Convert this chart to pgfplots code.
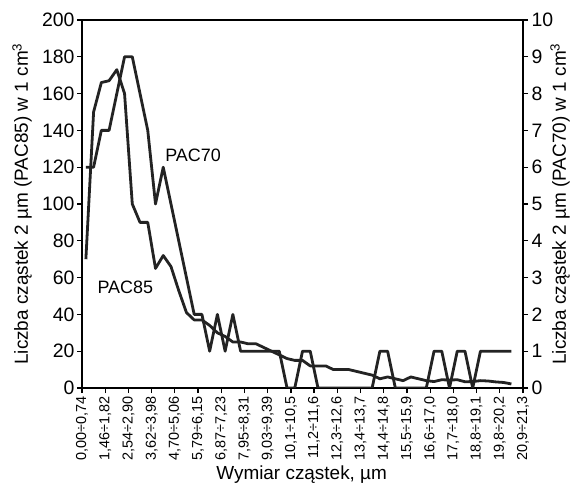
\documentclass[border=0pt]{standalone}
\usepackage{pgfplots}
\pgfplotsset{compat=1.18}
\usepackage{fontspec}
\setmainfont{Liberation Sans}
\definecolor{ln}{HTML}{232323}
\begin{document}
\begin{tikzpicture}
\useasboundingbox (0,0) rectangle (571bp,486bp);
\begin{axis}[
  at={(82bp,98bp)}, anchor=south west,
  scale only axis, width=441bp, height=368bp,
  xmin=0, xmax=57, ymin=0, ymax=200,
  xtick={0,3,...,57},
  xticklabels={{0,00÷0,74},{1,46÷1,82},{2,54÷2,90},{3,62÷3,98},{4,70÷5,06},{5,79÷6,15},{6,87÷7,23},{7,95÷8,31},{9,03÷9,39},{10,1÷10,5},{11,2÷11,6},{12,3÷12,6},{13,4÷13,7},{14,4÷14,8},{15,5÷15,9},{16,6÷17,0},{17,7÷18,0},{18,8÷19,1},{19,8÷20,2},{20,9÷21,3}},
  ytick={0,20,...,200},
  xtick pos=bottom, ytick pos=left, tick align=outside,
  major tick length=5bp,
  axis line style={line width=1.3bp, black},
  every tick/.style={black, line width=1.3bp},
  /pgf/number format/assume math mode=true,
  yticklabel style={font=\fontsize{19.5}{22}\selectfont, xshift=1bp},
  xticklabel style={font=\fontsize{14.5}{17}\selectfont, rotate=90, anchor=east, xshift=0bp},
  ylabel={Liczba cząstek 2 µm (PAC85) w 1 cm\textsuperscript{3}},
  ylabel style={font=\fontsize{19}{22}\selectfont, at={(axis description cs:-0.136,0.5)}, anchor=center, rotate=0},
  xlabel={Wymiar cząstek, µm},
  xlabel style={font=\fontsize{19}{22}\selectfont, at={(axis description cs:0.498,-0.236)}, anchor=center},
  clip=false,
]
\addplot[color=ln, line width=2.8bp, line join=round] coordinates {
(0.5,70) (1.5,150) (2.5,166) (3.5,167) (4.5,173) (5.5,160) (6.5,100) (7.5,90) (8.5,90) (9.5,65)
(10.5,72) (11.5,66) (12.5,53) (13.5,41) (14.5,37) (15.5,37) (16.5,34) (17.5,30) (18.5,28) (19.5,25)
(20.5,25) (21.5,24) (22.5,24) (23.5,22) (24.5,20) (25.5,18) (26.5,16) (27.5,15) (28.5,15) (29.5,12)
(30.5,12) (31.5,12) (32.5,10) (33.5,10) (34.5,10) (35.5,9) (36.5,8) (37.5,7) (38.5,5) (39.5,6)
(40.5,5) (41.5,4) (42.5,6) (43.5,5) (44.5,4) (45.5,3.5) (46.5,4.5) (47.5,4.3) (48.5,4.5) (49.5,3.4)
(50.5,3.5) (51.5,4) (52.5,3.8) (53.5,3.3) (54.5,3) (55.5,2.2)
};
\node[font=\fontsize{18}{21}\selectfont] at (axis cs:14.35,126.6) {PAC70};
\node[font=\fontsize{18}{21}\selectfont] at (axis cs:5.6,54.9) {PAC85};
\end{axis}
\begin{axis}[
  at={(82bp,98bp)}, anchor=south west,
  scale only axis, width=441bp, height=368bp,
  xmin=0, xmax=57, ymin=0, ymax=10,
  axis x line=none, axis y line*=right,
  ytick={0,1,...,10},
  tick align=outside,
  major tick length=5bp,
  axis line style={line width=1.3bp, black, -},
  every tick/.style={black, line width=1.3bp},
  /pgf/number format/assume math mode=true,
  yticklabel style={font=\fontsize{19.5}{22}\selectfont},
  ylabel={Liczba cząstek 2 µm (PAC70) w 1 cm\textsuperscript{3}},
  ylabel style={font=\fontsize{19}{22}\selectfont, at={(axis description cs:1.084,0.5)}, anchor=center, rotate=0},
]
\addplot[color=ln, line width=2.8bp, line join=round] coordinates {
(0.5,6) (1.5,6) (2.5,7) (3.5,7) (4.5,8) (5.5,9) (6.5,9) (7.5,8) (8.5,7) (9.5,5)
(10.5,6) (11.5,5) (12.5,4) (13.5,3) (14.5,2) (15.5,2) (16.5,1) (17.5,2) (18.5,1) (19.5,2)
(20.5,1) (21.5,1) (22.5,1) (23.5,1) (24.5,1) (25.5,1) (26.5,0) (27.5,0) (28.5,1) (29.5,1)
(30.5,0) (31.5,0) (32.5,0) (33.5,0) (34.5,0) (35.5,0) (36.5,0) (37.5,0) (38.5,1) (39.5,1)
(40.5,0) (41.5,0) (42.5,0) (43.5,0) (44.5,0) (45.5,1) (46.5,1) (47.5,0) (48.5,1) (49.5,1)
(50.5,0) (51.5,1) (52.5,1) (53.5,1) (54.5,1) (55.5,1)
};
\end{axis}
\end{tikzpicture}
\end{document}
